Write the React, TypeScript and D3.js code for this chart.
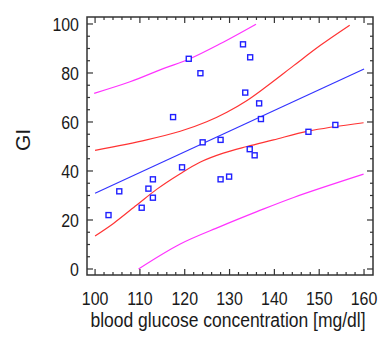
import React from "react";
import * as d3 from "d3";

const glucose = [133, 134.6, 120.9, 123.5, 133.5, 136.6, 137.0, 117.4, 147.6, 153.6, 124.0, 128.0, 134.5, 135.6, 119.4, 128.0, 129.9, 105.4, 111.9, 112.9, 112.9, 110.4, 103.0];
const gi = [91.7, 86.4, 85.8, 79.9, 72.0, 67.6, 61.2, 62.0, 56.0, 58.8, 51.7, 52.7, 48.9, 46.4, 41.5, 36.6, 37.7, 31.7, 32.8, 36.6, 29.1, 25.0, 22.0];

const fitX = [100, 160];
const fitY = [30.9, 81.6];

const confUpX = [100, 111.5, 119, 124.9, 129.4, 133.9, 138.3, 144.3, 150.2, 156.8];
const confUpY = [48.4, 52.7, 56.2, 60.1, 64.0, 68.8, 74.6, 83.0, 91.2, 99.5];
const confLoX = [100, 104.1, 109.3, 113.8, 119, 123.4, 128.6, 133.9, 139.8, 147.6, 159.9];
const confLoY = [13.5, 18.6, 26.1, 32.6, 38.9, 43.6, 47.3, 50.0, 52.7, 56.3, 59.7];
const predUpX = [99.8, 107.8, 115.2, 120.9, 127.9, 135.9];
const predUpY = [71.7, 76.4, 81.8, 85.6, 91.9, 99.9];
const predLoX = [109.7, 119, 127.9, 136.1, 144.3, 159.9];
const predLoY = [0, 10.2, 17.3, 23.4, 29.2, 38.7];

const xTicks = [100, 110, 120, 130, 140, 150, 160];
const yTicks = [0, 20, 40, 60, 80, 100];

const W = 379, H = 340;
const L = 87, R = 373, T = 17, B = 275;

export default function App() {
  const x = d3.scaleLinear().domain([98.2, 162]).range([L, R]);
  const y = d3.scaleLinear().domain([-2.45, 102.85]).range([B, T]);
  const font = "'Liberation Sans', Arial, sans-serif";
  const mk = (xs: number[], ys: number[]) =>
    d3.line<number>().x((d, i) => x(xs[i])).y((d, i) => y(ys[i])).curve(d3.curveCatmullRom.alpha(0.5))(xs) || "";

  const xMinor = d3.range(100, 161, 2);
  const yMinor = d3.range(0, 101, 5);
  const tickCol = "#333";
  const txtCol = "#1a1a1a";

  return (
    <svg width={W} height={H} style={{ position: "absolute", left: 0, top: 0, background: "#fff" }}>
      <defs>
        <clipPath id="plot">
          <rect x={L} y={T} width={R - L} height={B - T} />
        </clipPath>
      </defs>
      <rect x={L} y={T} width={R - L} height={B - T} fill="none" stroke={tickCol} strokeWidth={1.5} />
      {xMinor.map((v) => {
        const len = v % 10 === 0 ? 6 : 3;
        return (
          <g key={"xm" + v} stroke={tickCol} strokeWidth={1.2}>
            <line x1={x(v)} x2={x(v)} y1={B} y2={B - len} />
            <line x1={x(v)} x2={x(v)} y1={T} y2={T + len} />
          </g>
        );
      })}
      {yMinor.map((v) => {
        const len = v % 20 === 0 ? 6 : 3;
        return (
          <g key={"ym" + v} stroke={tickCol} strokeWidth={1.2}>
            <line x1={L} x2={L + len} y1={y(v)} y2={y(v)} />
            <line x1={R} x2={R - len} y1={y(v)} y2={y(v)} />
          </g>
        );
      })}
      {xTicks.map((v) => (
        <text key={"xt" + v} transform={`translate(${x(v)},305) scale(0.84,1)`} textAnchor="middle" fontFamily={font} fontSize={19} fill={txtCol}>
          {v}
        </text>
      ))}
      {yTicks.map((v) => (
        <text key={"yt" + v} transform={`translate(79,${y(v) + 7}) scale(0.84,1)`} textAnchor="end" fontFamily={font} fontSize={19} fill={txtCol}>
          {v}
        </text>
      ))}
      <text transform={`translate(228,327) scale(0.875,1)`} textAnchor="middle" fontFamily={font} fontSize={20} fill={txtCol}>
        blood glucose concentration [mg/dl]
      </text>
      <text transform="translate(30,140) rotate(-90)" textAnchor="middle" fontFamily={font} fontSize={21} fill={txtCol}>
        GI
      </text>
      <g clipPath="url(#plot)" fill="none" strokeWidth={1.2}>
        <path d={mk(predUpX, predUpY)} stroke="#ff33ff" />
        <path d={mk(predLoX, predLoY)} stroke="#ff33ff" />
        <path d={mk(confUpX, confUpY)} stroke="#ff3333" />
        <path d={mk(confLoX, confLoY)} stroke="#ff3333" />
        <path d={mk(fitX, fitY)} stroke="#3333ff" />
      </g>
      {glucose.map((g, i) => (
        <rect key={"p" + i} x={x(g) - 2.5} y={y(gi[i]) - 2.5} width={5} height={5} fill="#fff" stroke="#2020ff" strokeWidth={1.4} />
      ))}
    </svg>
  );
}
